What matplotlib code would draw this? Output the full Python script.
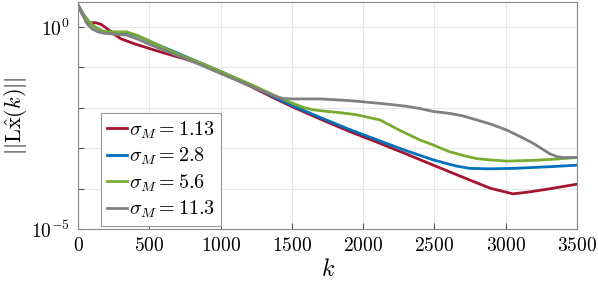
import numpy as np
import matplotlib
matplotlib.use("Agg")
from matplotlib import pyplot as plt

plt.rcParams['mathtext.fontset'] = 'cm'
plt.rcParams['font.family'] = 'serif'
plt.rcParams['font.serif'] = ['DejaVu Serif']

# values, y given as log10 exponent
k_red = [0, 40, 80, 120, 160, 200, 250, 300, 400, 500, 600, 700, 855, 1000, 1200, 1370, 1500, 1700,
         1900, 2118, 2300, 2492, 2700, 2890, 3050, 3150, 3300, 3500]
e_red = [0.55, 0.25, 0.1, 0.11, 0.07, -0.03, -0.17, -0.29, -0.42, -0.53, -0.64, -0.74, -0.90, -1.13,
         -1.45, -1.75, -1.97, -2.28, -2.58, -2.88, -3.14, -3.42, -3.72, -3.99, -4.13, -4.09, -4.01, -3.89]

k_blue = [0, 40, 80, 120, 180, 250, 340, 420, 500, 600, 700, 855, 1000, 1200, 1370, 1500, 1700, 1900,
          2118, 2300, 2492, 2650, 2750, 2890, 3050, 3300, 3500]
e_blue = [0.55, 0.3, 0.12, 0.0, -0.12, -0.13, -0.14, -0.22, -0.35, -0.5, -0.65, -0.88, -1.1, -1.42,
          -1.72, -1.94, -2.24, -2.53, -2.82, -3.06, -3.29, -3.44, -3.50, -3.51, -3.50, -3.46, -3.42]

k_green = [0, 40, 80, 120, 177, 260, 341, 411, 500, 575, 700, 855, 1000, 1200, 1370, 1500, 1580, 1650,
           1750, 1837, 1950, 2118, 2258, 2400, 2492, 2600, 2700, 2800, 2890, 3006, 3200, 3350, 3500]
e_green = [0.55, 0.3, 0.12, 0.0, -0.11, -0.12, -0.12, -0.2, -0.34, -0.47, -0.67, -0.88, -1.1, -1.4,
           -1.68, -1.88, -1.99, -2.05, -2.09, -2.12, -2.17, -2.30, -2.56, -2.80, -2.92, -3.08, -3.18,
           -3.26, -3.29, -3.32, -3.30, -3.27, -3.23]

k_gray = [0, 20, 40, 61, 100, 140, 177, 260, 341, 420, 482, 600, 855, 1000, 1276, 1400, 1440, 1500,
          1700, 1900, 2118, 2300, 2400, 2492, 2609, 2700, 2796, 2900, 3006, 3100, 3193, 3260, 3310,
          3360, 3400, 3500]
e_gray = [0.55, 0.38, 0.25, 0.09, -0.05, -0.12, -0.15, -0.18, -0.2, -0.3, -0.40, -0.57, -0.93, -1.15,
          -1.56, -1.74, -1.77, -1.78, -1.78, -1.82, -1.89, -1.96, -2.02, -2.09, -2.14, -2.20, -2.30,
          -2.41, -2.55, -2.71, -2.88, -3.03, -3.14, -3.21, -3.23, -3.23]

labels = [r'$\sigma_M = 1.13$', r'$\sigma_M = 2.8$', r'$\sigma_M = 5.6$', r'$\sigma_M = 11.3$']
colors = ['#A2142F', '#0072BD', '#77AC30', '#808080']
x_ticks = [0, 500, 1000, 1500, 2000, 2500, 3000, 3500]

fig = plt.figure(figsize=(5.98, 2.84), dpi=100)
ax = fig.add_axes([0.1304, 0.1937, 0.8346, 0.7993])

series = [(k_red, e_red), (k_blue, e_blue), (k_green, e_green), (k_gray, e_gray)]
for (k, e), c, lab in zip(series, colors, labels):
    ax.semilogy(k, 10.0 ** np.array(e), color=c, lw=2, label=lab)

ax.set_xlim(0, 3500)
ax.set_ylim(1e-5, 10 ** 0.62)
ax.set_xticks(x_ticks)
ax.set_xticklabels(['$%d$' % t for t in x_ticks], fontsize=14)
ax.set_yticks([10.0 ** p for p in range(-5, 1)])
ax.set_yticklabels(['$10^{-5}$', '', '', '', '', '$10^{0}$'], fontsize=14)
ax.yaxis.set_minor_locator(matplotlib.ticker.NullLocator())
ax.tick_params(direction='in', length=4, color='#555555', pad=6)
ax.grid(True, color='#e6e6e6', lw=0.8)
for s in ax.spines.values():
    s.set_color('#888888')

ax.set_xlabel('$k$', fontsize=17, labelpad=2)
ax.set_ylabel(r'$||\mathrm{L}\hat{\mathrm{x}}(k)||$', fontsize=16)
ax.yaxis.set_label_coords(-0.098, 0.5)

leg = ax.legend(loc='lower left', bbox_to_anchor=(0.046, 0.012), fontsize=14.5, handlelength=1.0,
                handletextpad=0.1, borderpad=0.3, labelspacing=0.25, fancybox=False,
                framealpha=1, edgecolor='#999999', borderaxespad=0)
leg.get_frame().set_linewidth(0.8)

fig.savefig('out.png', dpi=100)
